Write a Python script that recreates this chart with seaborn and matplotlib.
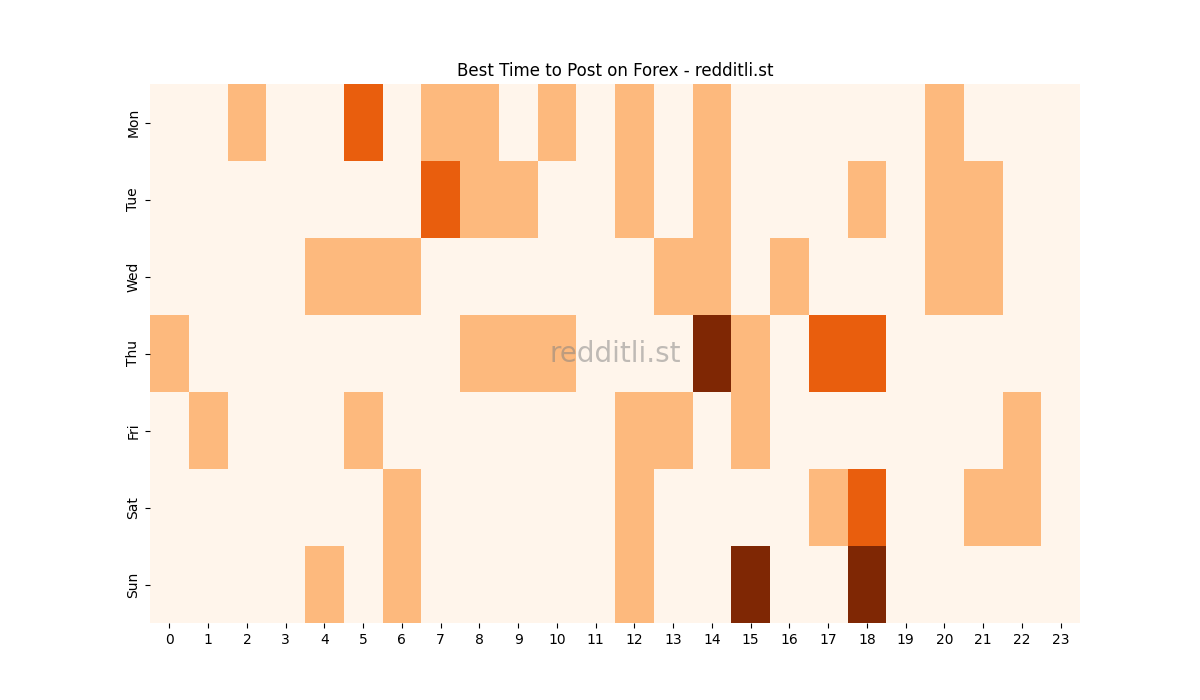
import numpy as np
import pandas as pd
import seaborn as sns
import matplotlib.pyplot as plt

days = ["Mon", "Tue", "Wed", "Thu", "Fri", "Sat", "Sun"]
hours = list(range(24))

# post counts per hour, one list per weekday
mon = [0, 0, 1, 0, 0, 2, 0, 1, 1, 0, 1, 0, 1, 0, 1, 0, 0, 0, 0, 0, 1, 0, 0, 0]
tue = [0, 0, 0, 0, 0, 0, 0, 2, 1, 1, 0, 0, 1, 0, 1, 0, 0, 0, 1, 0, 1, 1, 0, 0]
wed = [0, 0, 0, 0, 1, 1, 1, 0, 0, 0, 0, 0, 0, 1, 1, 0, 1, 0, 0, 0, 1, 1, 0, 0]
thu = [1, 0, 0, 0, 0, 0, 0, 0, 1, 1, 1, 0, 0, 0, 3, 1, 0, 2, 2, 0, 0, 0, 0, 0]
fri = [0, 1, 0, 0, 0, 1, 0, 0, 0, 0, 0, 0, 1, 1, 0, 1, 0, 0, 0, 0, 0, 0, 1, 0]
sat = [0, 0, 0, 0, 0, 0, 1, 0, 0, 0, 0, 0, 1, 0, 0, 0, 0, 1, 2, 0, 0, 1, 1, 0]
sun = [0, 0, 0, 0, 1, 0, 1, 0, 0, 0, 0, 0, 1, 0, 0, 3, 0, 0, 3, 0, 0, 0, 0, 0]

df = pd.DataFrame([mon, tue, wed, thu, fri, sat, sun], index=days, columns=hours)

fig, ax = plt.subplots(figsize=(12, 7), dpi=100)
sns.heatmap(df, cmap="Oranges", cbar=False, ax=ax)
ax.set_title("Best Time to Post on Forex - redditli.st")
ax.set_xlabel("")
ax.set_ylabel("")

# watermark
ax.text(0.5, 0.5, "redditli.st", transform=ax.transAxes, ha="center", va="center",
        fontsize=20, color="gray", alpha=0.5)

plt.savefig("out.png")
